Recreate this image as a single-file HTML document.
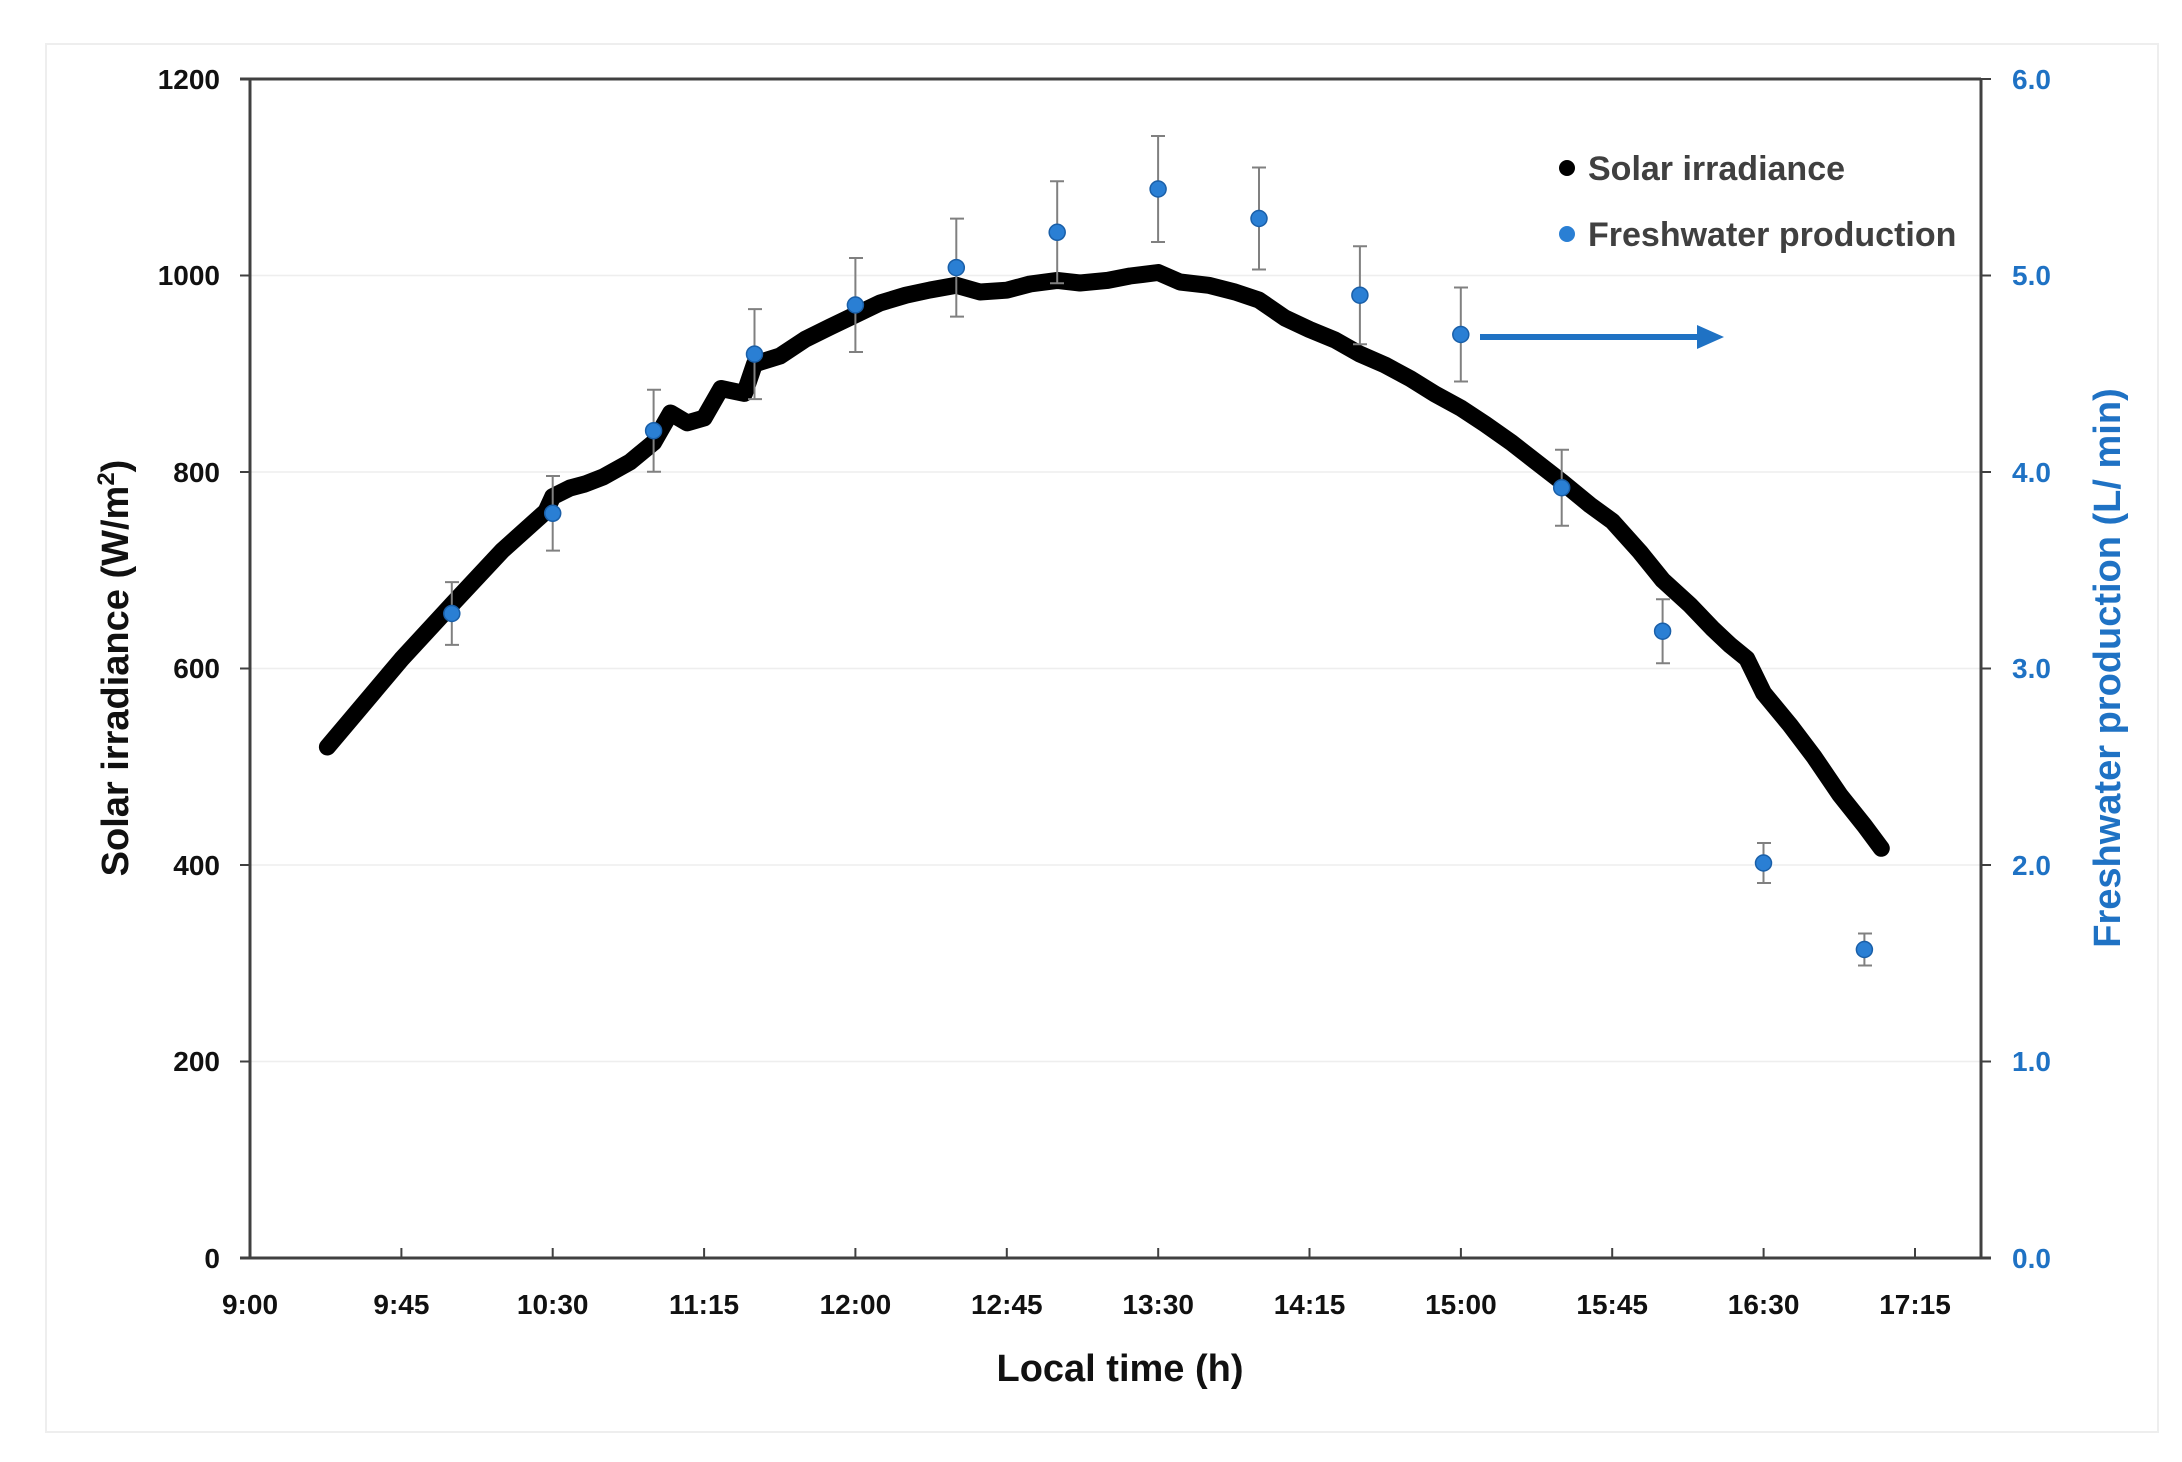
<!DOCTYPE html>
<html><head><meta charset="utf-8"><style>
body{margin:0;background:#fff;}
svg{display:block;font-family:"Liberation Sans",sans-serif;font-weight:bold;}
</style></head><body>
<svg width="2182" height="1462" viewBox="0 0 2182 1462" xmlns="http://www.w3.org/2000/svg">
<rect x="46" y="44" width="2112" height="1388" fill="#fff" stroke="#eee" stroke-width="2"/>
<g stroke="#eeeeee" stroke-width="1.5">
<line x1="250" y1="1061.5" x2="1981" y2="1061.5"/>
<line x1="250" y1="865" x2="1981" y2="865"/>
<line x1="250" y1="668.5" x2="1981" y2="668.5"/>
<line x1="250" y1="472" x2="1981" y2="472"/>
<line x1="250" y1="275.5" x2="1981" y2="275.5"/>
</g>
<g stroke="#404040" stroke-width="3" fill="none">
<line x1="240" y1="79" x2="1981" y2="79"/>
<line x1="250" y1="79" x2="250" y2="1258"/>
<line x1="1981" y1="79" x2="1981" y2="1258"/>
<line x1="240" y1="1258" x2="1991" y2="1258"/>
</g>
<g stroke="#404040" stroke-width="2">
<line x1="401.4" y1="1248" x2="401.4" y2="1258"/><line x1="552.7" y1="1248" x2="552.7" y2="1258"/>
<line x1="704.1" y1="1248" x2="704.1" y2="1258"/><line x1="855.4" y1="1248" x2="855.4" y2="1258"/>
<line x1="1006.8" y1="1248" x2="1006.8" y2="1258"/><line x1="1158.2" y1="1248" x2="1158.2" y2="1258"/>
<line x1="1309.5" y1="1248" x2="1309.5" y2="1258"/><line x1="1460.9" y1="1248" x2="1460.9" y2="1258"/>
<line x1="1612.2" y1="1248" x2="1612.2" y2="1258"/><line x1="1763.6" y1="1248" x2="1763.6" y2="1258"/>
<line x1="1915" y1="1248" x2="1915" y2="1258"/>
<line x1="240" y1="1061.5" x2="250" y2="1061.5"/><line x1="240" y1="865" x2="250" y2="865"/>
<line x1="240" y1="668.5" x2="250" y2="668.5"/><line x1="240" y1="472" x2="250" y2="472"/>
<line x1="240" y1="275.5" x2="250" y2="275.5"/>
<line x1="1981" y1="1061.5" x2="1991" y2="1061.5"/><line x1="1981" y1="865" x2="1991" y2="865"/>
<line x1="1981" y1="668.5" x2="1991" y2="668.5"/><line x1="1981" y1="472" x2="1991" y2="472"/>
<line x1="1981" y1="275.5" x2="1991" y2="275.5"/><line x1="1981" y1="79" x2="1991" y2="79"/>
</g>
<g font-size="28" fill="#111" text-anchor="end">
<text x="220" y="1268">0</text><text x="220" y="1071">200</text><text x="220" y="875">400</text>
<text x="220" y="678">600</text><text x="220" y="482">800</text><text x="220" y="285">1000</text><text x="220" y="89">1200</text>
</g>
<g font-size="28" fill="#1f72c4">
<text x="2012" y="1268">0.0</text><text x="2012" y="1071">1.0</text><text x="2012" y="875">2.0</text>
<text x="2012" y="678">3.0</text><text x="2012" y="482">4.0</text><text x="2012" y="285">5.0</text><text x="2012" y="89">6.0</text>
</g>
<g font-size="28" fill="#111" text-anchor="middle">
<text x="250" y="1314">9:00</text><text x="401.4" y="1314">9:45</text><text x="552.7" y="1314">10:30</text>
<text x="704.1" y="1314">11:15</text><text x="855.4" y="1314">12:00</text><text x="1006.8" y="1314">12:45</text>
<text x="1158.2" y="1314">13:30</text><text x="1309.5" y="1314">14:15</text><text x="1460.9" y="1314">15:00</text>
<text x="1612.2" y="1314">15:45</text><text x="1763.6" y="1314">16:30</text><text x="1915" y="1314">17:15</text>
</g>
<text x="1120" y="1381" font-size="38" fill="#111" text-anchor="middle">Local time (h)</text>
<text transform="translate(128,668) rotate(-90)" font-size="38" fill="#111" text-anchor="middle">Solar irradiance  (W/m<tspan font-size="24" dy="-14">2</tspan><tspan dy="14">)</tspan></text>
<text transform="translate(2120,668) rotate(-90)" font-size="38" fill="#1f72c4" text-anchor="middle">Freshwater production (L/ min)</text>
<polyline fill="none" stroke="#000" stroke-width="17" stroke-linejoin="round" stroke-linecap="round" points="327.4,747 401.4,659.3 451.8,604.6 502.3,550.6 546,511.3 552.7,496.6 570,488 585,484 603.2,476.9 630,462 653.6,442.5 670.5,413 687.3,422.9 704.1,418 721,388.5 744.5,393.4 754.5,364 780,356 805,339.4 830,327 855.4,314.8 880,303 905.9,295.2 930,290 956.4,285.3 980,292 1006.8,290.2 1030,284 1057.3,280.4 1080,283 1107.7,280.4 1130,276 1158.2,272.5 1180,282 1208.6,285.3 1235,292 1259,300.1 1285,318 1309.5,329.5 1335,340 1359.9,354.1 1385,365 1410.4,378.7 1435,394 1460.9,408.1 1485,424 1511.3,442.5 1535,461 1561.8,481.8 1590,505 1612.2,521.1 1640,552 1662.7,580.1 1690,605 1713.2,629.2 1730,645 1746.8,658.7 1763.6,693.1 1790,725 1814.1,756.9 1840,795 1864.5,825.7 1881.3,848.3"/>
<g stroke="#808080" stroke-width="2">
<path d="M451.8,582.1V644.9M445,582.1h14M445,644.9h14"/>
<path d="M552.7,476V550.6M546,476h14M546,550.6h14"/>
<path d="M653.6,389.7V471.7M647,389.7h14M647,471.7h14"/>
<path d="M754.5,309.1V399.1M748,309.1h14M748,399.1h14"/>
<path d="M855.4,258V352M849,258h14M849,352h14"/>
<path d="M956.3,218.6V316.6M950,218.6h14M950,316.6h14"/>
<path d="M1057.2,181.3V283.3M1050,181.3h14M1050,283.3h14"/>
<path d="M1158.1,136V242M1151,136h14M1151,242h14"/>
<path d="M1259,167.5V269.5M1252,167.5h14M1252,269.5h14"/>
<path d="M1359.9,246.2V344.2M1353,246.2h14M1353,344.2h14"/>
<path d="M1460.8,287.5V381.5M1454,287.5h14M1454,381.5h14"/>
<path d="M1561.7,449.7V525.7M1555,449.7h14M1555,525.7h14"/>
<path d="M1662.6,599.2V663.2M1656,599.2h14M1656,663.2h14"/>
<path d="M1763.5,843V883M1757,843h14M1757,883h14"/>
<path d="M1864.4,933.5V965.5M1858,933.5h14M1858,965.5h14"/>
</g>
<g fill="#2a7fd4" stroke="#1a5fa8" stroke-width="1.5">
<circle cx="451.8" cy="613.5" r="8"/><circle cx="552.7" cy="513.3" r="8"/><circle cx="653.6" cy="430.7" r="8"/>
<circle cx="754.5" cy="354.1" r="8"/><circle cx="855.4" cy="305" r="8"/><circle cx="956.3" cy="267.6" r="8"/>
<circle cx="1057.2" cy="232.3" r="8"/><circle cx="1158.1" cy="189" r="8"/><circle cx="1259" cy="218.5" r="8"/>
<circle cx="1359.9" cy="295.2" r="8"/><circle cx="1460.8" cy="334.5" r="8"/><circle cx="1561.7" cy="487.7" r="8"/>
<circle cx="1662.6" cy="631.2" r="8"/><circle cx="1763.5" cy="863" r="8"/><circle cx="1864.4" cy="949.5" r="8"/>
</g>
<line x1="1480" y1="337" x2="1700" y2="337" stroke="#1f72c4" stroke-width="6"/>
<polygon points="1697,325 1724,337 1697,349" fill="#1f72c4"/>
<circle cx="1567" cy="168" r="8" fill="#000"/>
<text x="1588" y="180" font-size="34" fill="#404040">Solar irradiance</text>
<circle cx="1567" cy="234" r="8" fill="#2a7fd4"/>
<text x="1588" y="246" font-size="34" fill="#404040">Freshwater production</text>
</svg>
</body></html>
